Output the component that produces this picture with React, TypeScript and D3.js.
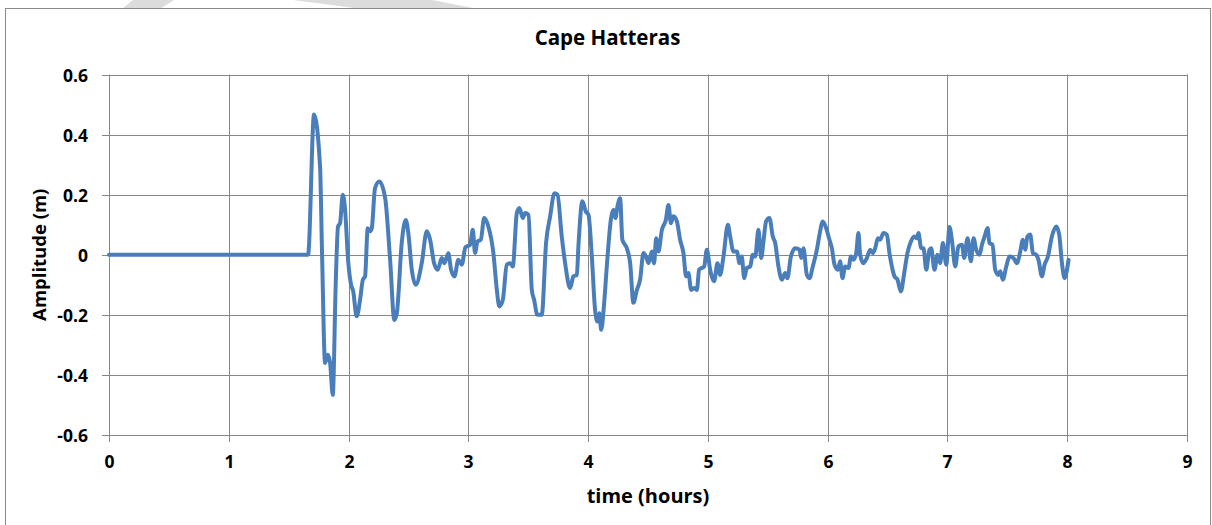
import React from "react";
import * as d3 from "d3";

const title = "Cape Hatteras";
const xAxisTitle = "time (hours)";
const yAxisTitle = "Amplitude (m)";
const xTicks = [0, 1, 2, 3, 4, 5, 6, 7, 8, 9];
const yTicks = [-0.6, -0.4, -0.2, 0, 0.2, 0.4, 0.6];

const timeHours = [
  0, 1.662, 1.712, 1.762, 1.779, 1.804, 1.826, 1.846, 1.868, 1.893, 1.912, 1.929, 1.952, 1.971,
  1.996, 2.021, 2.038, 2.068, 2.096, 2.119, 2.138, 2.16, 2.18, 2.194, 2.221, 2.257, 2.305, 2.347,
  2.382, 2.403, 2.444, 2.478, 2.499, 2.528, 2.561, 2.611, 2.653, 2.681, 2.714, 2.745, 2.778, 2.8,
  2.833, 2.856, 2.884, 2.917, 2.945, 2.976, 3.015, 3.037, 3.056, 3.076, 3.104, 3.132, 3.167, 3.209,
  3.238, 3.259, 3.288, 3.321, 3.349, 3.371, 3.405, 3.426, 3.455, 3.474, 3.502, 3.53, 3.549, 3.577,
  3.613, 3.649, 3.683, 3.719, 3.744, 3.78, 3.808, 3.85, 3.877, 3.906, 3.919, 3.952, 3.981, 4.003,
  4.031, 4.058, 4.078, 4.094, 4.109, 4.134, 4.156, 4.19, 4.211, 4.228, 4.245, 4.267, 4.286, 4.323,
  4.351, 4.378, 4.407, 4.434, 4.462, 4.484, 4.504, 4.532, 4.551, 4.568, 4.587, 4.616, 4.649, 4.671,
  4.691, 4.712, 4.741, 4.768, 4.796, 4.818, 4.838, 4.86, 4.888, 4.908, 4.927, 4.949, 4.969, 4.991,
  5.019, 5.052, 5.08, 5.102, 5.13, 5.167, 5.186, 5.213, 5.242, 5.264, 5.283, 5.303, 5.325, 5.353,
  5.375, 5.395, 5.422, 5.445, 5.464, 5.486, 5.514, 5.542, 5.562, 5.589, 5.618, 5.645, 5.664, 5.693,
  5.729, 5.765, 5.779, 5.798, 5.826, 5.848, 5.876, 5.91, 5.932, 5.96, 5.987, 6.015, 6.035, 6.057,
  6.085, 6.104, 6.124, 6.146, 6.174, 6.194, 6.215, 6.238, 6.257, 6.271, 6.299, 6.327, 6.355, 6.377,
  6.397, 6.419, 6.438, 6.466, 6.494, 6.516, 6.536, 6.558, 6.583, 6.611, 6.639, 6.666, 6.695, 6.725,
  6.745, 6.758, 6.781, 6.8, 6.823, 6.85, 6.864, 6.892, 6.917, 6.939, 6.962, 6.99, 7.017, 7.04,
  7.065, 7.092, 7.121, 7.14, 7.168, 7.196, 7.218, 7.24, 7.268, 7.288, 7.31, 7.335, 7.351, 7.376,
  7.399, 7.426, 7.441, 7.463, 7.491, 7.518, 7.552, 7.58, 7.608, 7.63, 7.649, 7.668, 7.691, 7.714,
  7.741, 7.76, 7.789, 7.811, 7.839, 7.872, 7.908, 7.933, 7.956, 7.978, 7.998, 8.011,
];

const amplitudeM = [
  0, 0, 0.467, 0.294, 0, -0.36, -0.333, -0.36, -0.467, -0.094, 0.094, 0.105, 0.2, 0.15,
  -0.017, -0.1, -0.12, -0.205, -0.15, -0.084, -0.072, 0.088, 0.078, 0.088, 0.222, 0.244, 0.19, -0.017,
  -0.217, -0.195, 0.04, 0.116, 0.072, -0.05, -0.1, -0.028, 0.078, 0.05, -0.028, -0.05, -0.011, -0.028,
  0.005, -0.05, -0.072, -0.017, -0.033, 0.025, 0.033, 0.083, 0.006, 0.044, 0.05, 0.122, 0.094, 0.006,
  -0.117, -0.172, -0.15, -0.033, -0.028, -0.039, 0.139, 0.156, 0.122, 0.139, 0.133, -0.117, -0.15, -0.2,
  -0.2, 0.039, 0.128, 0.205, 0.2, 0.061, -0.028, -0.111, -0.072, -0.067, 0.028, 0.178, 0.144, 0.133,
  -0.005, -0.183, -0.222, -0.195, -0.25, -0.161, -0.039, 0.117, 0.15, 0.122, 0.161, 0.188, 0.05, 0.022,
  -0.028, -0.16, -0.117, -0.083, 0.006, -0.006, -0.028, 0.011, -0.028, 0.055, 0.011, 0.083, 0.116, 0.166,
  0.105, 0.128, 0.111, 0.05, 0.005, -0.072, -0.061, -0.117, -0.111, -0.117, -0.05, -0.044, -0.039, 0.017,
  -0.05, -0.088, -0.028, -0.067, -0.006, 0.1, 0.061, 0.011, 0.011, -0.028, -0.006, -0.078, -0.044, -0.039,
  0, -0.006, 0.083, -0.011, 0.044, 0.111, 0.122, 0.061, 0.039, -0.039, -0.083, -0.061, -0.078, -0.006,
  0.022, 0.017, -0.011, 0.022, -0.067, -0.078, -0.039, 0.017, 0.067, 0.111, 0.089, 0.05, 0.022, -0.033,
  -0.05, -0.022, -0.078, -0.039, -0.044, -0.006, -0.017, 0.005, 0.072, 0, -0.028, -0.011, 0.017, 0.005,
  0.022, 0.055, 0.05, 0.072, 0.067, 0.005, -0.039, -0.072, -0.083, -0.122, -0.061, 0.005, 0.044, 0.061,
  0.055, 0.072, 0.022, 0.022, -0.05, 0.017, 0.022, -0.05, 0, -0.028, 0.039, -0.033, 0.092, 0.04,
  -0.039, 0.028, 0.033, -0.011, 0.055, -0.022, 0.055, 0.017, 0, 0.033, 0.061, 0.089, 0.039, 0.033,
  -0.05, -0.067, -0.055, -0.083, -0.039, -0.006, -0.011, -0.028, 0.011, 0.05, 0.017, 0.061, 0.067, 0.005,
  0, -0.017, -0.072, -0.033, -0.006, 0.061, 0.094, 0.067, -0.028, -0.078, -0.05, -0.017,
];

const W = 1212;
const H = 525;
const FONT = "'Open Sans', 'DejaVu Sans', sans-serif";
const GRID = "#878787";

export default function App() {
  const x = d3.scaleLinear().domain([0, 9]).range([109, 1187]);
  const y = d3.scaleLinear().domain([-0.6, 0.6]).range([435, 74.5]);
  const px = (v: number) => Math.round(x(v)) + 0.5;
  const py = (v: number) => Math.round(y(v)) + 0.5;

  const pts: [number, number][] = timeHours.map((t, i) => [t, amplitudeM[i]]);
  const line = d3
    .line<[number, number]>()
    .x((d) => x(d[0]))
    .y((d) => y(d[1]))
    .curve(d3.curveMonotoneX);

  const left = x(0);
  const right = x(9);
  const top = y(0.6);
  const bottom = y(-0.6);

  return (
    <svg
      width={W}
      height={H}
      style={{ position: "absolute", left: 0, top: 0, display: "block", background: "#fff" }}
    >
      {/* light gray decorative stripes above the chart frame */}
      <polygon points="133,0 174,0 160,9 122,9" fill="#dcdcdc" />
      <polygon points="293,0 432,0 478,9 362,9" fill="#dcdcdc" />
      <rect x={5.5} y={8.5} width={1205} height={H} fill="#fff" stroke="#8a8a8a" strokeWidth={1} />

      <text
        x={607.5}
        y={45}
        textAnchor="middle"
        fontFamily={FONT}
        fontWeight={700}
        fontSize={20.5}
        fill="#000"
      >
        {title}
      </text>

      {/* horizontal gridlines and y ticks */}
      {yTicks.map((v) => (
        <g key={"y" + v}>
          <line x1={left - 7} x2={right} y1={py(v)} y2={py(v)} stroke={GRID} strokeWidth={1} />
          <text
            x={88}
            y={py(v)}
            dy="0.36em"
            textAnchor="end"
            fontFamily={FONT}
            fontWeight={700}
            fontSize={17.5}
            fill="#000"
          >
            {v === 0 ? "0" : v.toFixed(1)}
          </text>
        </g>
      ))}

      {/* vertical gridlines and x ticks */}
      {xTicks.map((v) => (
        <g key={"x" + v}>
          <line x1={px(v)} x2={px(v)} y1={top} y2={bottom + 7} stroke={GRID} strokeWidth={1} />
          <text
            x={px(v)}
            y={468}
            textAnchor="middle"
            fontFamily={FONT}
            fontWeight={700}
            fontSize={17.5}
            fill="#000"
          >
            {v}
          </text>
        </g>
      ))}

      <path
        d={line(pts) || ""}
        fill="none"
        stroke="#4a7ebb"
        strokeWidth={4}
        strokeLinejoin="round"
        strokeLinecap="round"
      />

      <text
        x={(left + right) / 2}
        y={503}
        textAnchor="middle"
        fontFamily={FONT}
        fontWeight={700}
        fontSize={20}
        fill="#000"
      >
        {xAxisTitle}
      </text>
      <text
        transform={`translate(46, ${(top + bottom) / 2}) rotate(-90)`}
        textAnchor="middle"
        fontFamily={FONT}
        fontWeight={700}
        fontSize={18.5}
        fill="#000"
      >
        {yAxisTitle}
      </text>
    </svg>
  );
}
